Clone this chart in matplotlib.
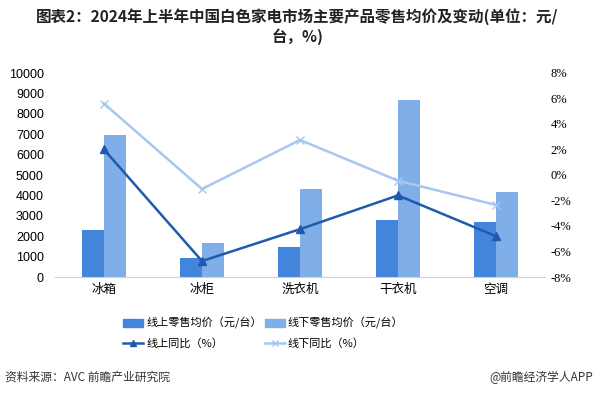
import matplotlib
matplotlib.use('Agg')
import matplotlib.pyplot as plt
import numpy as np
from matplotlib.lines import Line2D
from matplotlib.patches import Patch

plt.rcParams['font.family'] = ['Noto Sans CJK SC', 'DejaVu Sans']

categories = ['冰箱', '冰柜', '洗衣机', '干衣机', '空调']
online_price = [2300, 920, 1460, 2790, 2700]
offline_price = [6950, 1670, 4310, 8680, 4170]
online_yoy = [2.0, -6.75, -4.25, -1.6, -4.8]
offline_yoy = [5.6, -1.1, 2.75, -0.45, -2.35]

c_on_bar = '#4384DC'
c_off_bar = '#80AEE9'
c_on_line = '#1F5AAE'
c_off_line = '#A8C7EE'

fig = plt.figure(figsize=(5.95, 3.96), dpi=100)
ax = fig.add_axes([55 / 595, 1 - 277 / 396, 490 / 595, 204 / 396])
ax2 = ax.twinx()

x = np.arange(len(categories))
w = 0.224
ax.bar(x - w / 2, online_price, w, color=c_on_bar, zorder=2)
ax.bar(x + w / 2, offline_price, w, color=c_off_bar, zorder=2)
ax.set_xlim(-0.5, len(categories) - 0.5)
ax.set_ylim(0, 10000)
ax.set_yticks(range(0, 10001, 1000))
ax.set_xticks(x)
ax.set_xticklabels(categories, fontsize=9)

ax2.plot(x, offline_yoy, color=c_off_line, marker='x', markersize=6, lw=1.8)
ax2.plot(x, online_yoy, color=c_on_line, marker='^', markersize=6, lw=1.8)
ax2.set_ylim(-8, 8)
ax2.set_yticks(range(-8, 9, 2))
ax2.set_yticklabels([f'{v}%' for v in range(-8, 9, 2)], family='Liberation Serif', fontsize=9)

for a in (ax, ax2):
    for s in ['top', 'left', 'right']:
        a.spines[s].set_visible(False)
    a.tick_params(length=0)
ax.spines['bottom'].set_color('#D0D0D0')
ax2.spines['bottom'].set_visible(False)
for lab in ax.get_yticklabels():
    lab.set_family('Liberation Sans')
    lab.set_fontsize(9)
ax.tick_params(axis='y', pad=8)
ax.tick_params(axis='x', pad=4)
ax2.tick_params(axis='y', pad=4)

# ncol=2 fills by column, so order is bar, line, bar, line
handles = [Patch(color=c_on_bar),
           Line2D([], [], color=c_on_line, marker='^', lw=1.8, markersize=5),
           Patch(color=c_off_bar),
           Line2D([], [], color=c_off_line, marker='x', lw=1.8, markersize=5)]
labels = ['线上零售均价（元/台）', '线上同比（%）', '线下零售均价（元/台）', '线下同比（%）']
fig.legend(handles, labels, ncol=2, loc='upper left', bbox_to_anchor=(120 / 595, 1 - 314 / 396),
           frameon=False, fontsize=8, handlelength=1.8, handletextpad=0.3,
           columnspacing=0.2, labelspacing=0.8, borderaxespad=0, borderpad=0.3)

fig.text(0.5, 1 - 17 / 396, '图表2：2024年上半年中国白色家电市场主要产品零售均价及变动(单位：元/',
         ha='center', va='center', fontsize=11.2, fontweight='bold', color='#222222')
fig.text(0.5, 1 - 37 / 396, '台，%)', ha='center', va='center', fontsize=11.2,
         fontweight='bold', color='#222222')
fig.text(5 / 595, 1 - 377 / 396, '资料来源：AVC 前瞻产业研究院', ha='left', va='center',
         fontsize=8.5, color='#333333')
fig.text(593 / 595, 1 - 377 / 396, '@前瞻经济学人APP', ha='right', va='center',
         fontsize=8.5, color='#333333')

fig.savefig('out.png', dpi=100)
